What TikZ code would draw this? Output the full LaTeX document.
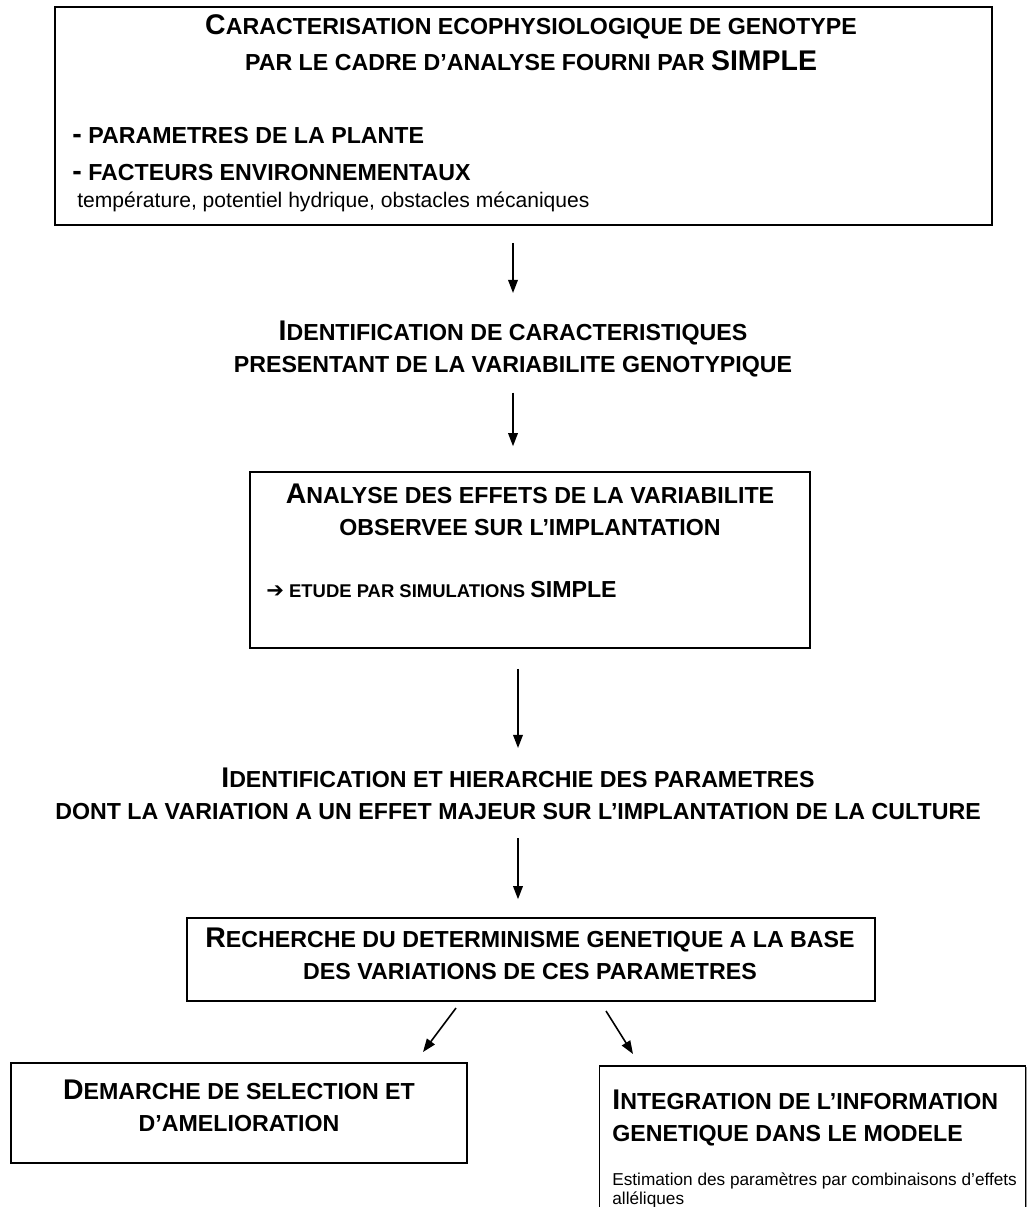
\documentclass[tikz,border=0pt]{standalone}
\usepackage{fontspec}
\setmainfont{Liberation Sans}
\newfontfamily\symfont{DejaVu Sans}
\usetikzlibrary{arrows.meta,shadows}
\tikzstyle{frame} = [rectangle, draw=black, fill=white, line width=0.9pt, drop shadow={shadow xshift=0.6pt, shadow yshift=-0.6pt, fill=black!40, opacity=1}]
\tikzstyle{flow} = [-{Triangle[length=7.5pt,width=5.5pt]}, line width=0.9pt]
\tikzstyle{heading} = [inner sep=0pt, align=center, font=\bfseries\fontsize{13.2}{18.1}\selectfont]
\newcommand{\Bg}[1]{{\fontsize{16.2}{18.1}\selectfont #1}}
\newcommand{\Tb}[1]{{\fontsize{16.2}{20.4}\selectfont #1}}

\begin{document}
\begin{tikzpicture}[x=0.02cm, y=-0.02cm]
        \useasboundingbox (0,0) rectangle (1029,1207);
        \clip (0,0) rectangle (1029,1207);

        % Frames first so the text sits on top
        \node[frame, minimum width=18.74cm, minimum height=4.36cm] at (523.5,116) (carac) {};
        \node[frame, minimum width=11.2cm, minimum height=3.52cm] at (530,560) (analyse) {};
        \node[frame, minimum width=13.76cm, minimum height=1.66cm] at (531,959.5) (rech) {};
        \node[frame, minimum width=9.12cm, minimum height=2cm] at (239,1113) (dem) {};
        \node[frame, minimum width=8.52cm, minimum height=3.88cm] at (812.5,1163) (integ) {};

        % Top box
        \node[heading, font=\bfseries\fontsize{13.2}{20.4}\selectfont, anchor=north] at (531,14) (caracT)
            {\Tb{C}ARACTERISATION ECOPHYSIOLOGIQUE DE GENOTYPE\\PAR LE CADRE D’ANALYSE FOURNI PAR \Tb{SIMPLE}};
        \node[anchor=north west, inner sep=0pt, align=left, font=\bfseries\fontsize{13.2}{21}\selectfont] at (72,127) (caracL)
            {{\fontsize{16.2}{21}\selectfont -} PARAMETRES DE LA PLANTE\\
            {\fontsize{16.2}{21}\selectfont -} FACTEURS ENVIRONNEMENTAUX\\[-5.7pt]
            \hspace*{0.1cm}{\mdseries\fontsize{12}{21}\selectfont température, potentiel hydrique, obstacles mécaniques}};

        \node[heading, anchor=north] at (513,321) (ident)
            {\Bg{I}DENTIFICATION DE CARACTERISTIQUES\\PRESENTANT DE LA VARIABILITE GENOTYPIQUE};

        % Analysis box
        \node[heading, anchor=north] at (530,484) (analyseT)
            {\Bg{A}NALYSE DES EFFETS DE LA VARIABILITE\\OBSERVEE SUR L’IMPLANTATION};
        \node[anchor=west, inner sep=0pt, font=\bfseries\fontsize{10.5}{12}\selectfont] at (266,590) (etude)
            {{\symfont\fontsize{12}{12}\selectfont ➔} ETUDE PAR SIMULATIONS {\fontsize{13.2}{12}\selectfont SIMPLE}};

        \node[heading, anchor=north] at (518,768) (hier)
            {\Bg{I}DENTIFICATION ET HIERARCHIE DES PARAMETRES\\DONT LA VARIATION A UN EFFET MAJEUR SUR L’IMPLANTATION DE LA CULTURE};

        \node[heading, anchor=north] at (530,928) (rechT)
            {\Bg{R}ECHERCHE DU DETERMINISME GENETIQUE A LA BASE\\DES VARIATIONS DE CES PARAMETRES};

        % Bottom boxes
        \node[heading, anchor=north] at (239,1080) (demT)
            {\Bg{D}EMARCHE DE SELECTION ET\\D’AMELIORATION};
        \node[heading, align=left, anchor=north west] at (612,1090) (integT)
            {\Bg{I}NTEGRATION DE L’INFORMATION\\GENETIQUE DANS LE MODELE};
        \node[anchor=north west, inner sep=0pt, align=left, font=\fontsize{9.8}{11}\selectfont] at (612,1172) (integS)
            {Estimation des paramètres par combinaisons d’effets\\alléliques};

        % Draw arrows
        \draw[flow, shorten <=0.34cm, shorten >=0.56cm] (carac.south -| ident.north) -- (ident.north);
        \draw[flow, shorten <=0.3cm, shorten >=0.5cm] (ident.south) -- (ident.south |- analyse.north);
        \draw[flow, shorten <=0.4cm, shorten >=0.4cm] (analyse.south -| hier.north) -- (hier.north);
        \draw[flow, shorten <=0.36cm, shorten >=0.36cm] (hier.south) -- (hier.south |- rech.north);

        \coordinate (selA) at (456,1008);
        \coordinate (selB) at (423,1052);
        \coordinate (modA) at (606,1011);
        \coordinate (modB) at (633,1054);
        \draw[flow] (selA) -- (selB);
        \draw[flow] (modA) -- (modB);
    \end{tikzpicture}
\end{document}
